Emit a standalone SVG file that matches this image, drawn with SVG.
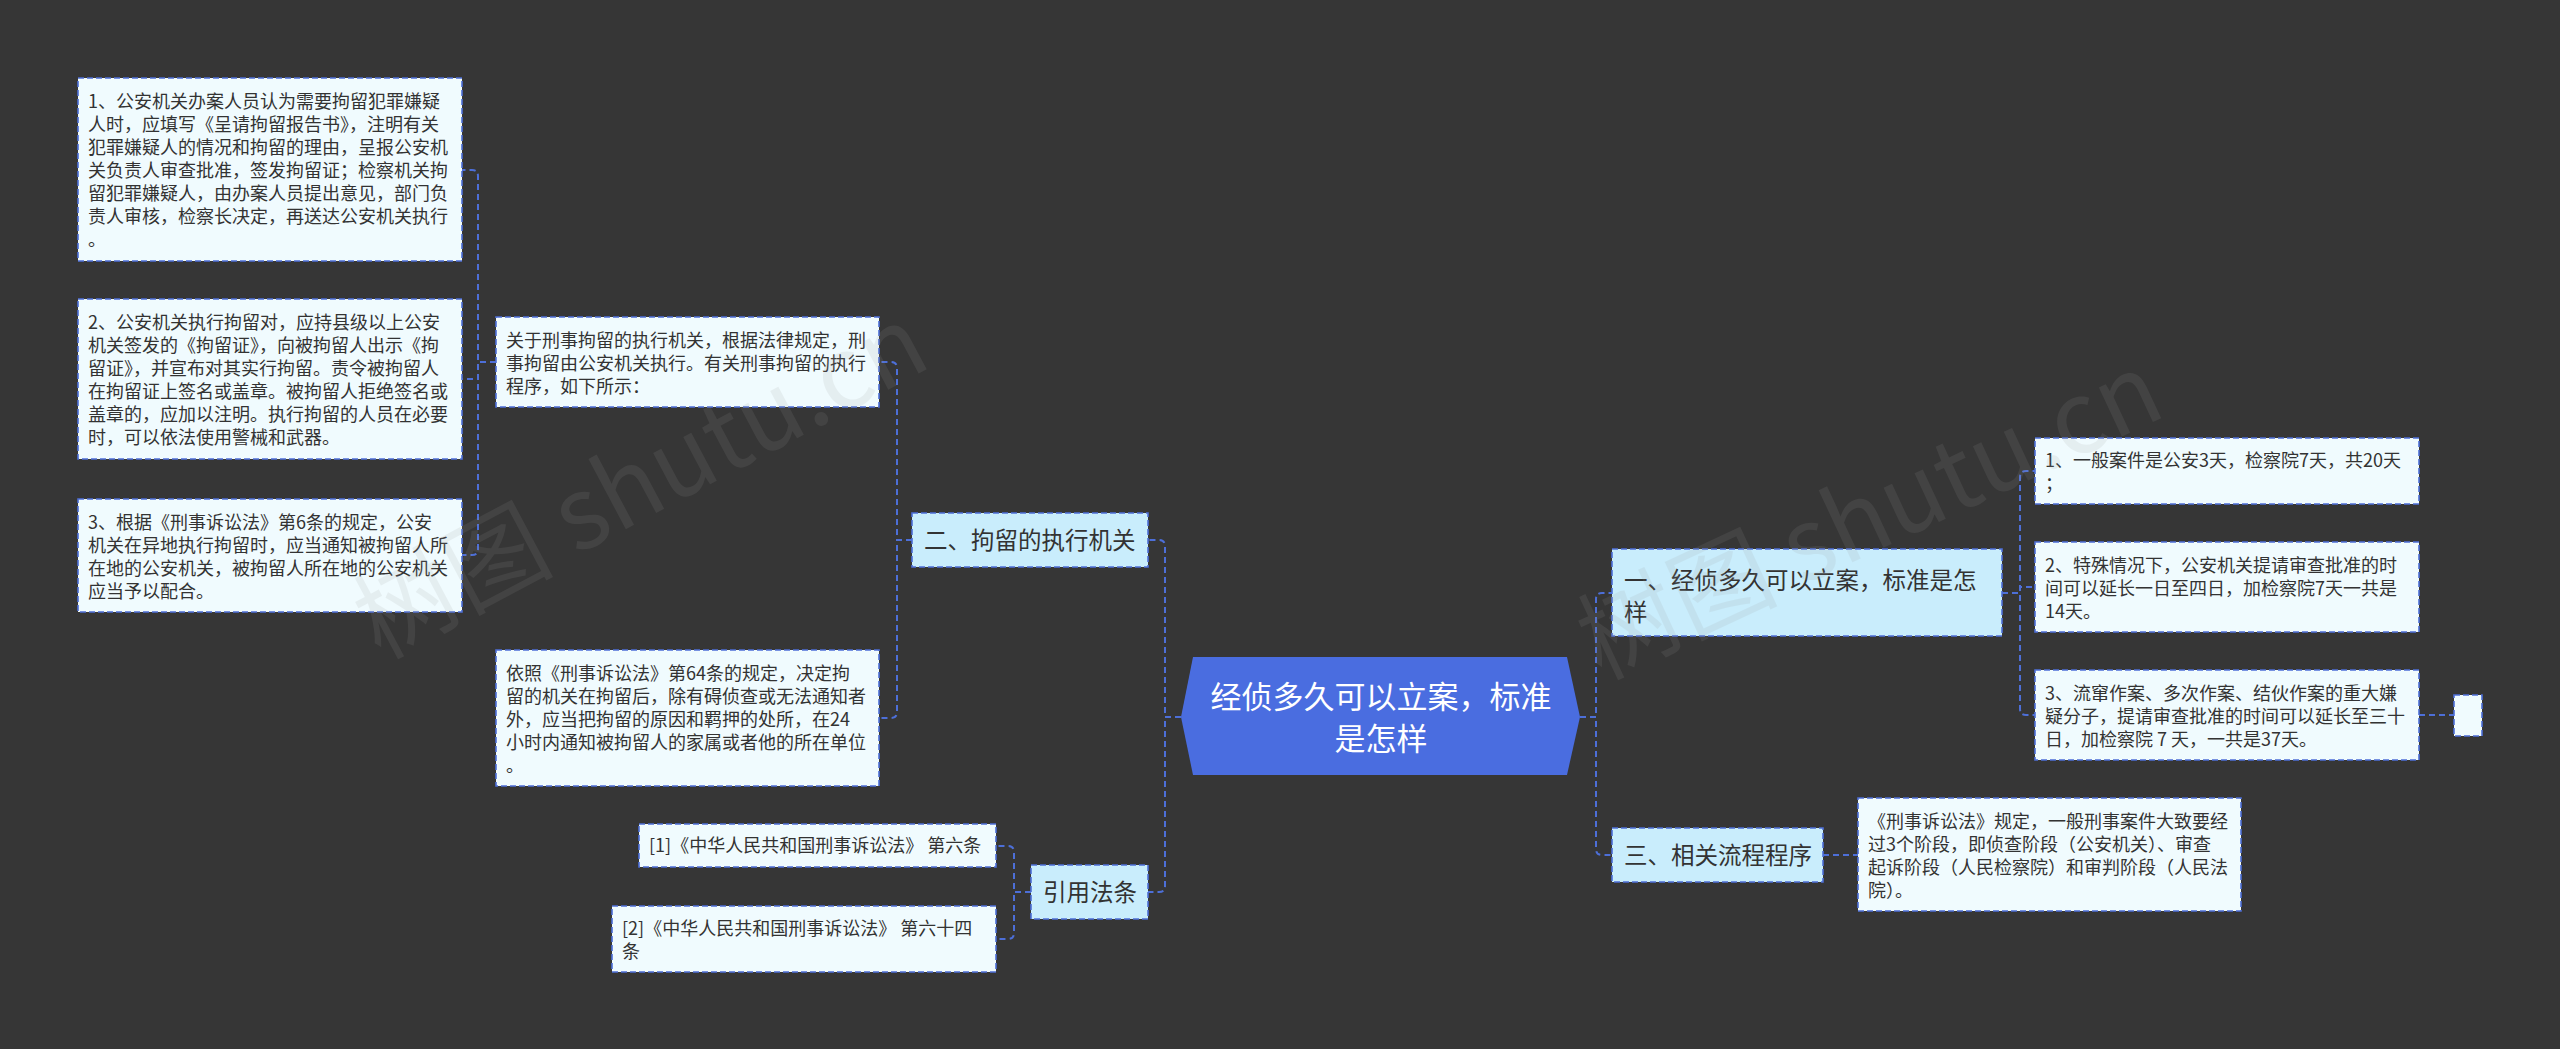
<svg xmlns="http://www.w3.org/2000/svg" width="2560" height="1049" viewBox="0 0 2560 1049">
<style>
.bg{fill:#363636}
.leaf{fill:#f0fbfe;stroke:#4d6fd8;stroke-width:1.6;stroke-dasharray:6 3}
.l1{fill:#c9edfc;stroke:#4d6fd8;stroke-width:1.6;stroke-dasharray:6 3}
.t{font-family:"Noto Sans CJK SC","Microsoft YaHei",sans-serif;font-size:18px;fill:#333333}
.t1{font-family:"Noto Sans CJK SC","Microsoft YaHei",sans-serif;font-size:23.5px;fill:#333333}
.tc{font-family:"Noto Sans CJK SC","Microsoft YaHei",sans-serif;font-size:31px;fill:#ffffff;text-anchor:middle}
.c{fill:none;stroke:#4d6fd8;stroke-width:2;stroke-dasharray:6 4}
.wm{font-family:"Noto Sans CJK SC","Liberation Serif",serif;font-size:100px;fill:#9a9a9a;opacity:0.13}
</style>
<rect class="bg" x="0" y="0" width="2560" height="1049"/>

<g id="connectors">
  <path class="c" d="M1181 717 H1165 V546 Q1165 540 1159 540 H1148"/>
  <path class="c" d="M1181 717 H1165 V886 Q1165 892 1159 892 H1148"/>
  <path class="c" d="M912 540 H897 V368 Q897 362 891 362 H879"/>
  <path class="c" d="M912 540 H897 V712 Q897 718 891 718 H879"/>
  <path class="c" d="M496 362 H478 V176 Q478 170 472 170 H462"/>
  <path class="c" d="M496 362 H478 V379 H462"/>
  <path class="c" d="M496 362 H478 V549 Q478 555 472 555 H462"/>
  <path class="c" d="M1031 892 H1014 V852 Q1014 846 1008 846 H996"/>
  <path class="c" d="M1031 892 H1014 V933 Q1014 939 1008 939 H996"/>
  <path class="c" d="M1580 717 H1596 V599 Q1596 593 1602 593 H1612"/>
  <path class="c" d="M1580 717 H1596 V849 Q1596 855 1602 855 H1612"/>
  <path class="c" d="M2002 593 H2020 V477 Q2020 471 2026 471 H2035"/>
  <path class="c" d="M2002 593 H2020 V587 H2035"/>
  <path class="c" d="M2002 593 H2020 V709 Q2020 715 2026 715 H2035"/>
  <path class="c" d="M1823 855 H1858"/>
  <path class="c" d="M2419 715 H2454"/>
</g>

<g id="center">
  <polygon points="1193,657 1567,657 1580,717 1567,775 1193,775 1181,717" fill="#4a6de0"/>
  <text class="tc" x="1381" y="708">经侦多久可以立案，标准</text>
  <text class="tc" x="1381" y="750">是怎样</text>
</g>

<g id="n-jiliu">
  <rect class="l1" x="912" y="513" width="236" height="54"/>
  <text class="t1" x="924" y="549">二、拘留的执行机关</text>
</g>

<g id="n-yinyong">
  <rect class="l1" x="1031" y="865" width="117" height="54"/>
  <text class="t1" x="1043" y="901">引用法条</text>
</g>

<g id="n-yi">
  <rect class="l1" x="1612" y="549" width="390" height="87"/>
  <text class="t1" x="1624" y="589">一、经侦多久可以立案，标准是怎</text>
  <text class="t1" x="1624" y="621">样</text>
</g>

<g id="n-san">
  <rect class="l1" x="1612" y="828" width="211" height="54"/>
  <text class="t1" x="1624" y="864">三、相关流程程序</text>
</g>

<g id="leaf-a">
  <rect class="leaf" x="78" y="78" width="384" height="183"/>
  <text class="t" x="88" y="108">1、公安机关办案人员认为需要拘留犯罪嫌疑</text>
  <text class="t" x="88" y="131">人时，应填写《呈请拘留报告书》，注明有关</text>
  <text class="t" x="88" y="154">犯罪嫌疑人的情况和拘留的理由，呈报公安机</text>
  <text class="t" x="88" y="177">关负责人审查批准，签发拘留证；检察机关拘</text>
  <text class="t" x="88" y="200">留犯罪嫌疑人，由办案人员提出意见，部门负</text>
  <text class="t" x="88" y="223">责人审核，检察长决定，再送达公安机关执行</text>
  <text class="t" x="88" y="246">。</text>
</g>

<g id="leaf-b">
  <rect class="leaf" x="78" y="299" width="384" height="160"/>
  <text class="t" x="88" y="329">2、公安机关执行拘留对，应持县级以上公安</text>
  <text class="t" x="88" y="352">机关签发的《拘留证》，向被拘留人出示《拘</text>
  <text class="t" x="88" y="375">留证》，并宣布对其实行拘留。责令被拘留人</text>
  <text class="t" x="88" y="398">在拘留证上签名或盖章。被拘留人拒绝签名或</text>
  <text class="t" x="88" y="421">盖章的，应加以注明。执行拘留的人员在必要</text>
  <text class="t" x="88" y="444">时，可以依法使用警械和武器。</text>
</g>

<g id="leaf-c">
  <rect class="leaf" x="78" y="499" width="384" height="113"/>
  <text class="t" x="88" y="529">3、根据《刑事诉讼法》第6条的规定，公安</text>
  <text class="t" x="88" y="552">机关在异地执行拘留时，应当通知被拘留人所</text>
  <text class="t" x="88" y="575">在地的公安机关，被拘留人所在地的公安机关</text>
  <text class="t" x="88" y="598">应当予以配合。</text>
</g>

<g id="leaf-d">
  <rect class="leaf" x="496" y="317" width="383" height="90"/>
  <text class="t" x="506" y="347">关于刑事拘留的执行机关，根据法律规定，刑</text>
  <text class="t" x="506" y="370">事拘留由公安机关执行。有关刑事拘留的执行</text>
  <text class="t" x="506" y="393">程序，如下所示：</text>
</g>

<g id="leaf-e">
  <rect class="leaf" x="496" y="650" width="383" height="136"/>
  <text class="t" x="506" y="680">依照《刑事诉讼法》第64条的规定，决定拘</text>
  <text class="t" x="506" y="703">留的机关在拘留后，除有碍侦查或无法通知者</text>
  <text class="t" x="506" y="726">外，应当把拘留的原因和羁押的处所，在24</text>
  <text class="t" x="506" y="749">小时内通知被拘留人的家属或者他的所在单位</text>
  <text class="t" x="506" y="772">。</text>
</g>

<g id="leaf-f">
  <rect class="leaf" x="639" y="824" width="357" height="43"/>
  <text class="t" x="649" y="852">[1]《中华人民共和国刑事诉讼法》 第六条</text>
</g>

<g id="leaf-g">
  <rect class="leaf" x="612" y="906" width="384" height="66"/>
  <text class="t" x="622" y="935">[2]《中华人民共和国刑事诉讼法》 第六十四</text>
  <text class="t" x="622" y="958">条</text>
</g>

<g id="leaf-r1">
  <rect class="leaf" x="2035" y="438" width="384" height="66"/>
  <text class="t" x="2045" y="467">1、一般案件是公安3天，检察院7天，共20天</text>
  <text class="t" x="2045" y="490">；</text>
</g>

<g id="leaf-r2">
  <rect class="leaf" x="2035" y="542" width="384" height="90"/>
  <text class="t" x="2045" y="572">2、特殊情况下，公安机关提请审查批准的时</text>
  <text class="t" x="2045" y="595">间可以延长一日至四日，加检察院7天一共是</text>
  <text class="t" x="2045" y="618">14天。</text>
</g>

<g id="leaf-r3">
  <rect class="leaf" x="2035" y="670" width="384" height="90"/>
  <text class="t" x="2045" y="700">3、流窜作案、多次作案、结伙作案的重大嫌</text>
  <text class="t" x="2045" y="723">疑分子，提请审查批准的时间可以延长至三十</text>
  <text class="t" x="2045" y="746">日，加检察院 7 天，一共是37天。</text>
</g>

<g id="leaf-small">
  <rect class="leaf" x="2454" y="695" width="28" height="41"/>
</g>

<g id="leaf-h">
  <rect class="leaf" x="1858" y="798" width="383" height="113"/>
  <text class="t" x="1868" y="828">《刑事诉讼法》规定，一般刑事案件大致要经</text>
  <text class="t" x="1868" y="851">过3个阶段，即侦查阶段（公安机关）、审查</text>
  <text class="t" x="1868" y="874">起诉阶段（人民检察院）和审判阶段（人民法</text>
  <text class="t" x="1868" y="897">院）。</text>
</g>

<g id="watermark">
  <text class="wm" transform="translate(380,660) rotate(-28)">树图 shutu.cn</text>
  <text class="wm" transform="translate(1600,680) rotate(-25)">树图 shutu.cn</text>
</g>
</svg>
